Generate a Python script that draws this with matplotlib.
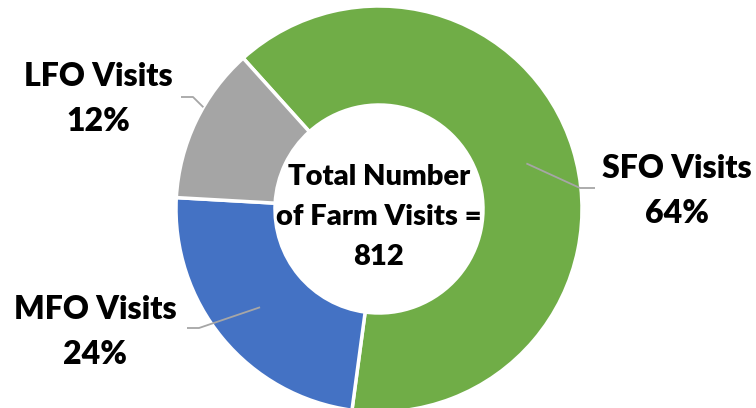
import numpy as np
import matplotlib.pyplot as plt

# farm visit counts (total 812)
categories = ["SFO Visits", "MFO Visits", "LFO Visits"]
visits = [518, 193, 101]
colors = ["#70AD47", "#4472C4", "#A5A5A5"]

# label x centre and baseline of first line (pixels from top)
label_pos = [(677, 178), (95, 319), (98, 86)]
# where the leader line meets the wedge: radius fraction, position along the wedge
anchor_r = [0.76, 0.76, 1.0]
anchor_frac = [0.5, 0.5, 0.4]
elbow = [(580, 188), (199, 328), (193, 97)]
line_end = [(595, 188), (187, 328), (181, 97)]

W, H = 756, 408
cx, cy, R = 379, H - 209, 203
font = "Lato"

fig = plt.figure(figsize=(7.56, 4.08), dpi=100)
ax = fig.add_axes([0, 0, 1, 1])

wedges, _ = ax.pie(visits, colors=colors, startangle=132, counterclock=False,
                   radius=R, center=(cx, cy),
                   wedgeprops=dict(width=99, edgecolor="white", linewidth=2.5))
ax.set_xlim(0, W)
ax.set_ylim(0, H)
ax.set_aspect("equal")
ax.axis("off")

total = sum(visits)
for i, (w, name, v) in enumerate(zip(wedges, categories, visits)):
    lx, ly = label_pos[i]
    ex, ey = elbow[i]
    sx, sy = line_end[i]
    ang = np.deg2rad(w.theta1 + anchor_frac[i] * (w.theta2 - w.theta1))
    ax_x = cx + anchor_r[i] * R * np.cos(ang)
    ax_y = cy + anchor_r[i] * R * np.sin(ang)
    ax.plot([ax_x, ex, sx], [ax_y, H - ey, H - sy], color="#A6A6A6", lw=1.3,
            solid_capstyle="butt")
    ax.text(lx, H - ly, name, ha="center", va="baseline",
            fontsize=23, fontweight="heavy", family=font)
    ax.text(lx, H - ly - 45, f"{v / total:.0%}", ha="center", va="baseline",
            fontsize=23, fontweight="heavy", family=font)

center_lines = ["Total Number", "of Farm Visits =", str(total)]
for i, line in enumerate(center_lines):
    ax.text(cx, H - 185 - 40 * i, line, ha="center", va="baseline",
            fontsize=21, fontweight="heavy", family=font)

fig.savefig("out.png", dpi=100)
